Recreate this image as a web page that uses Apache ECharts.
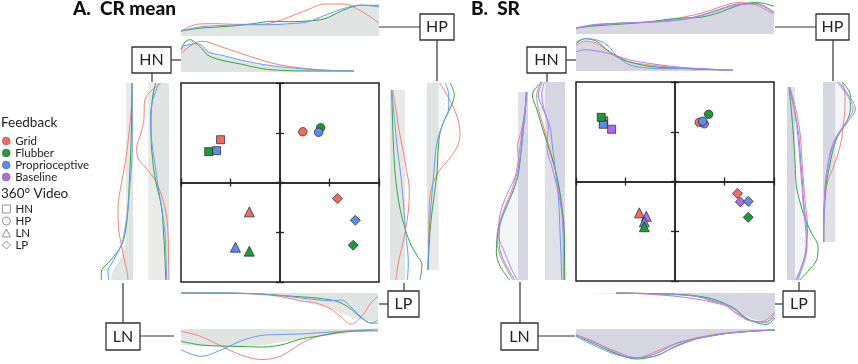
<!DOCTYPE html>
<html>
<head>
<meta charset="utf-8">
<script src="https://cdn.jsdelivr.net/npm/echarts@6/dist/echarts.min.js"></script>
<style>html,body{margin:0;padding:0;background:#fff}#chart{width:858px;height:364px}</style>
</head>
<body>
<div id="chart"></div>
<script>
// ---- feedback conditions & stimulus shapes ----
const feedbacks = ['Grid', 'Flubber', 'Proprioceptive', 'Baseline'];
const stimuli = ['HN', 'HP', 'LN', 'LP'];
const shapes = ['rect', 'circle', 'triangle', 'diamond'];
const shapeSizes = [8, 8.5, 10, 10];

// ---- condition means (A. CR mean), order HN, HP, LN, LP ----
const aGridX = [-1.20, 0.46, -0.62, 1.16];
const aGridY = [0.86, 1.02, -0.59, -0.32];
const aFlubX = [-1.44, 0.82, -0.62, 1.48];
const aFlubY = [0.62, 1.10, -1.38, -1.26];
const aPropX = [-1.28, 0.78, -0.90, 1.52];
const aPropY = [0.64, 1.01, -1.30, -0.76];

// ---- condition means (B. SR) ----
const bGridX = [-1.44, 0.49, -0.72, 1.26];
const bGridY = [1.22, 1.19, -0.63, -0.24];
const bFlubX = [-1.49, 0.68, -0.62, 1.48];
const bFlubY = [1.29, 1.35, -0.91, -0.72];
const bPropX = [-1.45, 0.56, -0.62, 1.48];
const bPropY = [1.15, 1.21, -0.81, -0.40];
const bBaseX = [-1.28, 0.59, -0.58, 1.32];
const bBaseY = [1.05, 1.16, -0.70, -0.41];

// ---- marginal densities, panel A ----
const aHPxPos = [0, 18, 36, 54, 72, 90, 108, 126, 144, 162, 180, 198];
const aHPxGrey = [5, 8, 9.5, 10.5, 11.5, 12.5, 13, 14.5, 19, 26, 30.5, 30];
const aHPxGrid = [5, 12, 12.3, 11.7, 11.7, 13, 19, 26, 32, 32, 25, 13];
const aHPxFlub = [5, 7.7, 9, 10.3, 12.3, 14.7, 14.3, 15, 17.3, 25.7, 30.7, 30.7];
const aHPxProp = [5, 9, 10.3, 11, 11.3, 11.3, 12.3, 14, 20.7, 27.3, 31, 29];

const aHNxPos = [0, 4, 9, 14, 21, 27, 41, 61, 81, 101, 127, 147, 173];
const aHNxGrey = [24, 26, 27, 28, 26, 21, 16, 11, 7, 4.5, 2.5, 1.5, 1];
const aHNxGrid = [18.3, 22, 26, 29, 30.7, 30, 25, 18.3, 11.7, 6.7, 3.3, 1.7, 1];
const aHNxFlub = [21.7, 30, 32.3, 30, 23.3, 16.7, 11.7, 7.7, 3.3, 1.7, 1, 1, 1];
const aHNxProp = [25, 26.5, 27.5, 28.3, 26.7, 20, 16.7, 11.7, 7.7, 5, 2.7, 1.7, 1];

const aLNyPos = [0, 25, 50, 75, 100, 125, 145, 160, 170, 180, 188, 197];
const aLNyGrey = [7, 7, 7, 7, 7, 7, 7, 7.5, 10, 15, 20, 22];
const aLNyGrid = [1, 1.7, 4, 7, 11.5, 15, 14.5, 12, 10, 8, 6, 5];
const aLNyFlub = [1, 1.3, 1.7, 2.5, 3.7, 5, 7, 10.5, 16.5, 25, 31.5, 31.7];
const aLNyProp = [0.7, 0.7, 0.7, 1, 3, 5, 8, 11, 15.5, 21, 25, 24.3];

const aHNyPos = [0, 10, 20, 35, 50, 65, 75, 85, 100, 125, 150, 175, 197];
const aHNyGrey = [20.7, 20.7, 20.7, 20.7, 20.7, 20.7, 20.7, 20.7, 20.7, 20.7, 20.7, 20.7, 20.7];
const aHNyGrid = [8, 20, 24.7, 25, 28, 32.3, 31, 23, 12.3, 4, 1, 0.5, 0];
const aHNyFlub = [13.3, 15.7, 17, 18, 18, 17.5, 16.5, 15.5, 13, 7.3, 5.5, 4, 3.3];
const aHNyProp = [10, 14, 17, 18.5, 18, 16.5, 15, 13.5, 11.5, 7.3, 4, 3, 2.3];

const aLPyPos = [0, 20, 40, 60, 80, 100, 120, 140, 155, 165, 175, 190];
const aLPyGrey = [15, 15, 15, 15, 15, 15, 15, 15, 15, 15, 15, 15];
const aLPyGrid = [2.7, 6, 9, 13, 16.5, 19.3, 18.5, 15.5, 12.5, 10, 8, 6];
const aLPyFlub = [1.7, 2.2, 2.8, 3.7, 4.8, 7, 10.3, 15.5, 21, 26.7, 32, 30];
const aLPyProp = [1.7, 3.5, 5.5, 7.5, 10.2, 12.3, 14, 15.5, 17, 18, 18.3, 17.3];

const aHPyPos = [0, 12, 25, 37, 50, 62, 75, 90, 110, 135, 160, 187];
const aHPyGrey = [11.7, 11.7, 11.7, 11.7, 11.7, 11.7, 11.7, 11.7, 11.7, 11.7, 11.7, 11.7];
const aHPyGrid = [12.7, 20, 26.7, 31, 33, 31, 23, 11, 3.3, 2, 1.7, 1];
const aHPyFlub = [23.3, 27.3, 23.3, 17.5, 13, 11.5, 10.7, 10, 7.5, 4.3, 2.3, 1];
const aHPyProp = [18.3, 21.7, 21.7, 17.5, 12.5, 9.5, 8, 6.8, 5, 3, 1.7, 1];

const aLPxPos = [0, 20, 40, 60, 80, 100, 120, 135, 150, 160, 170, 180, 190, 197];
const aLPxGrey = [0.5, 0.5, 1, 1.5, 2.5, 4.5, 8, 12, 16, 20, 24, 27, 28, 28];
const aLPxGrid = [0, 0, 0.2, 0.5, 1.2, 3.5, 8, 10, 16, 24, 31, 24, 10, 3.3];
const aLPxFlub = [0, 0, 0, 0.3, 1, 2.5, 3.8, 5, 7, 10, 16, 24.5, 30, 30];
const aLPxProp = [0, 0, 0, 0.3, 1, 2.5, 5, 6.7, 7.7, 7, 14, 24, 30, 26.7];

const aLNxPos = [0, 20, 40, 60, 80, 100, 120, 135, 150, 160, 170, 180, 190, 197];
const aLNxGrey = [16, 17, 17, 17, 16, 13, 10, 8, 6, 4.5, 3.5, 2.5, 2, 1.5];
const aLNxGrid = [2.3, 7.5, 17, 26, 30.5, 27, 14.5, 8, 4.5, 2.5, 1.7, 1, 0.5, 0];
const aLNxFlub = [12.3, 16, 17, 17.5, 18, 16, 10, 7.5, 5, 3.5, 2.3, 2, 1.7, 1.7];
const aLNxProp = [20.7, 27.3, 21, 12, 6.5, 5.5, 5, 4, 3, 2.5, 2, 2, 1.7, 1.7];

// ---- marginal densities, panel B ----
const bHPxPos = [0, 18, 36, 54, 72, 90, 108, 126, 144, 162, 180, 198];
const bHPxGrey = [6, 9, 10, 11, 12, 13.5, 15.5, 19, 25, 30, 31, 23];
const bHPxGrid = [6, 9, 10.5, 11.3, 12, 13.5, 17, 21, 27, 31.5, 29, 19.3];
const bHPxFlub = [6, 8, 9.3, 10.5, 12, 14.5, 16, 17, 21.7, 28.5, 31.7, 27.7];
const bHPxProp = [6, 9.5, 10.5, 11.3, 12, 13, 15, 19, 25, 30, 30.5, 21.7];
const bHPxBase = [5.5, 9, 10, 11, 11.7, 12.7, 14.5, 18.5, 24.3, 29.3, 30, 21];

const bHNxPos = [0, 9, 21, 31, 41, 54, 71, 87, 107, 127, 157];
const bHNxGrey = [26, 30, 28, 22, 15, 9, 6, 4, 3, 2, 0.7];
const bHNxGrid = [25.7, 30, 27.5, 21, 15, 9, 6.5, 4.5, 3, 1.7, 0.7];
const bHNxFlub = [27.3, 32.3, 29.5, 21, 14, 9, 5, 3.5, 2.5, 1.7, 0.7];
const bHNxProp = [29, 32.3, 31, 26, 15, 6, 3, 2.3, 2.5, 2, 0.7];
const bHNxBase = [19, 21.3, 20, 18, 15, 11, 8, 5.7, 3.5, 2.3, 0.7];

const bLNyPos = [0, 20, 40, 55, 70, 85, 100, 115, 130, 145, 160, 175, 188];
const bLNyGrey = [10, 10, 10, 10, 10, 10, 10, 10, 10, 10, 10, 10, 10];
const bLNyGrid = [1.7, 3, 7, 10.7, 9.3, 12, 17, 23, 28.5, 31, 29, 22.5, 15];
const bLNyFlub = [1.7, 3, 5, 6.5, 8, 10.3, 15.5, 21.5, 27.5, 30.7, 31.7, 27.5, 18.3];
const bLNyProp = [1, 3, 5, 6.5, 8.5, 10.5, 15, 22, 27.3, 29, 27.5, 21, 13.3];
const bLNyBase = [1, 3.5, 6, 8, 10, 13, 20, 26, 29, 29, 23.5, 17.5, 10.7];

const bHNyPos = [0, 13, 27, 45, 65, 85, 105, 125, 150, 175, 198];
const bHNyGrey = [20, 20, 20, 20, 20, 20, 20, 20, 20, 20, 20];
const bHNyGrid = [24, 28.3, 26.7, 21.5, 16, 10.5, 6.5, 3.5, 1, 0.5, 0];
const bHNyFlub = [23.3, 32.7, 28.3, 23, 16.5, 10.3, 6, 3, 0.7, 0.5, 0.7];
const bHNyProp = [22.7, 26.7, 22, 15, 12.5, 10, 7.5, 6, 5, 4, 3.3];
const bHNyBase = [20.7, 23.3, 21, 16.7, 18, 13, 8, 4, 2, 1.7, 1.7];

const bLPyPos = [0, 25, 50, 75, 100, 115, 130, 145, 160, 172, 183, 193];
const bLPyGrey = [8, 8, 8, 8, 8, 8, 8, 8, 8, 8, 8, 8];
const bLPyGrid = [2.7, 9.5, 13.5, 15, 17, 18.2, 20, 20.5, 19, 17, 14, 9.3];
const bLPyFlub = [2, 4.5, 6.5, 8, 9.5, 13, 17.5, 24, 31, 30, 22, 12.7];
const bLPyProp = [2.7, 8, 12, 13.8, 15.8, 16.7, 18.5, 20, 20, 18, 14.5, 11];
const bLPyBase = [2, 7.5, 11, 13, 15, 16, 17.5, 19, 19.3, 17, 13, 8.7];

const bHPyPos = [0, 13, 27, 40, 55, 70, 85, 100, 120, 140, 160];
const bHPyGrey = [12.3, 12.3, 12.3, 12.3, 12.3, 12.3, 12.3, 12.3, 12.3, 12.3, 12.3];
const bHPyGrid = [19, 22, 22, 20.5, 19, 15.5, 10.5, 4.5, 2, 1, 0.7];
const bHPyFlub = [19, 27.3, 27.3, 23.5, 14.5, 9.5, 6.5, 3.5, 1.5, 0.7, 0.7];
const bHPyProp = [15.7, 25.5, 32.3, 24.5, 14, 8, 5, 2.5, 1.5, 0.7, 0.7];
const bHPyBase = [14, 24, 30, 23, 13, 7.3, 4.5, 2.5, 1.3, 0.7, 0.7];

const bLPxPos = [0, 20, 40, 60, 80, 100, 120, 135, 150, 160, 170, 180, 190, 199];
const bLPxGrey = [0, 0.2, 0.5, 1, 1.5, 2.5, 4, 7, 11, 17, 23, 27, 28, 22];
const bLPxGrid = [null, null, 0, 0.3, 0.8, 1.3, 3, 8, 12, 19.5, 25, 29, 27, 18.3];
const bLPxFlub = [null, null, 0, 0.3, 0.7, 1.3, 3, 5.5, 11, 16.5, 25, 29.5, 31.5, 25];
const bLPxProp = [null, null, 0, 0.3, 0.8, 1.5, 3.3, 7, 11.5, 17.5, 26.5, 28.5, 29.3, 20];
const bLPxBase = [null, null, 0, 0.5, 1.7, 3.3, 6, 9, 13, 20.5, 26, 28.5, 29, 23.3];

const bLNxPos = [0, 20, 40, 60, 80, 100, 120, 135, 150, 160, 170, 180, 190, 199];
const bLNxGrey = [6, 15, 24, 29, 25.5, 16, 10, 7, 4.5, 3.5, 2.7, 2, 1.3, 1];
const bLNxGrid = [5.7, 13.5, 24, 29, 22.5, 14.5, 9, 6, 4, 3, 2.3, 1.5, 1, 0.7];
const bLNxFlub = [6.7, 15.7, 24.5, 30, 26.7, 17.5, 10, 7, 4.5, 3.5, 2.7, 2, 1.5, 1.3];
const bLNxProp = [7.3, 17.3, 25.5, 29, 24.5, 14.5, 9.5, 6.7, 4.5, 3.5, 2.7, 2, 1.5, 1.3];
const bLNxBase = [5.7, 14, 22.5, 28.5, 27, 16.7, 10, 7, 4.5, 3.5, 2.7, 2, 1.3, 0.7];

// colours
const markColors = { Grid: '#F26A62', Flubber: '#1E9B37', Proprioceptive: '#5B8DEB', Baseline: '#B06BE6' };
const lineColors = { Grid: '#F2837B', Flubber: '#33A846', Proprioceptive: '#6A9BF0', Baseline: '#BA7BEE' };
const greyA = '#E8EAE8';
const greyB = '#E0E0E8';

const grids = [], xAxes = [], yAxes = [], series = [];

function addStrip(s) {
  const gi = grids.length;
  grids.push({ left: s.left, top: s.top, width: s.width, height: s.height, show: false });
  const horizontal = s.dir === 'up' || s.dir === 'down';
  const len = horizontal ? s.width : s.height;
  const depth = horizontal ? s.height : s.width;
  // vertical strips use a time axis for position so that the area fills towards the density baseline
  const posAxis = horizontal
    ? { type: 'value', min: 0, max: len }
    : { type: 'time', min: 0, max: len, inverse: true };
  const denAxis = { type: 'value', min: 0, max: depth, inverse: s.dir === 'down' || s.dir === 'left' };
  const xa = horizontal ? posAxis : denAxis;
  const ya = horizontal ? denAxis : posAxis;
  xAxes.push(Object.assign({ gridIndex: gi, show: false }, xa));
  yAxes.push(Object.assign({ gridIndex: gi, show: false }, ya));

  const toData = vals => s.pos.map((p, i) => {
    const v = vals[i];
    if (v === null) return horizontal ? [p, '-'] : ['-', p];
    return horizontal ? [p, v] : [v, p];
  });
  const base = { type: 'line', xAxisIndex: gi, yAxisIndex: gi, smooth: 0.35, symbol: 'none',
    silent: true, clip: false, animation: false };
  series.push(Object.assign({}, base, {
    name: s.label, data: toData(s.grey), z: 1,
    lineStyle: { width: 0 }, areaStyle: { color: s.greyColor, opacity: 1 }
  }));
  s.curves.forEach(([fb, vals]) => {
    series.push(Object.assign({}, base, {
      data: toData(vals), z: 2,
      lineStyle: { width: 1, color: lineColors[fb] },
      areaStyle: { color: lineColors[fb], opacity: 0.025 }
    }));
  });
}

// panel A strips
addStrip({ label: 'HP', left: 181, top: 2, width: 198, height: 34, dir: 'up', pos: aHPxPos, grey: aHPxGrey, greyColor: greyA,
  curves: [['Grid', aHPxGrid], ['Flubber', aHPxFlub], ['Proprioceptive', aHPxProp]] });
addStrip({ label: 'HN', left: 181, top: 38, width: 173, height: 34, dir: 'up', pos: aHNxPos, grey: aHNxGrey, greyColor: greyA,
  curves: [['Grid', aHNxGrid], ['Flubber', aHNxFlub], ['Proprioceptive', aHNxProp]] });
addStrip({ label: 'LN', left: 100, top: 83, width: 33, height: 197, dir: 'left', pos: aLNyPos, grey: aLNyGrey, greyColor: greyA,
  curves: [['Grid', aLNyGrid], ['Flubber', aLNyFlub], ['Proprioceptive', aLNyProp]] });
addStrip({ label: 'HN', left: 136, top: 83, width: 33, height: 197, dir: 'left', pos: aHNyPos, grey: aHNyGrey, greyColor: greyA,
  curves: [['Grid', aHNyGrid], ['Flubber', aHNyFlub], ['Proprioceptive', aHNyProp]] });
addStrip({ label: 'LP', left: 390, top: 90, width: 33, height: 190, dir: 'right', pos: aLPyPos, grey: aLPyGrey, greyColor: greyA,
  curves: [['Grid', aLPyGrid], ['Flubber', aLPyFlub], ['Proprioceptive', aLPyProp]] });
addStrip({ label: 'HP', left: 427, top: 83, width: 33, height: 187, dir: 'right', pos: aHPyPos, grey: aHPyGrey, greyColor: greyA,
  curves: [['Grid', aHPyGrid], ['Flubber', aHPyFlub], ['Proprioceptive', aHPyProp]] });
addStrip({ label: 'LP', left: 181, top: 293, width: 197, height: 33, dir: 'down', pos: aLPxPos, grey: aLPxGrey, greyColor: greyA,
  curves: [['Grid', aLPxGrid], ['Flubber', aLPxFlub], ['Proprioceptive', aLPxProp]] });
addStrip({ label: 'LN', left: 181, top: 329, width: 197, height: 33, dir: 'down', pos: aLNxPos, grey: aLNxGrey, greyColor: greyA,
  curves: [['Grid', aLNxGrid], ['Flubber', aLNxFlub], ['Proprioceptive', aLNxProp]] });

// panel B strips
addStrip({ label: 'HP', left: 576, top: 1, width: 198, height: 33, dir: 'up', pos: bHPxPos, grey: bHPxGrey, greyColor: greyB,
  curves: [['Grid', bHPxGrid], ['Flubber', bHPxFlub], ['Proprioceptive', bHPxProp], ['Baseline', bHPxBase]] });
addStrip({ label: 'HN', left: 576, top: 37, width: 157, height: 34, dir: 'up', pos: bHNxPos, grey: bHNxGrey, greyColor: greyB,
  curves: [['Grid', bHNxGrid], ['Flubber', bHNxFlub], ['Proprioceptive', bHNxProp], ['Baseline', bHNxBase]] });
addStrip({ label: 'LN', left: 495, top: 92, width: 33, height: 188, dir: 'left', pos: bLNyPos, grey: bLNyGrey, greyColor: greyB,
  curves: [['Grid', bLNyGrid], ['Flubber', bLNyFlub], ['Proprioceptive', bLNyProp], ['Baseline', bLNyBase]] });
addStrip({ label: 'HN', left: 532, top: 82, width: 33, height: 198, dir: 'left', pos: bHNyPos, grey: bHNyGrey, greyColor: greyB,
  curves: [['Grid', bHNyGrid], ['Flubber', bHNyFlub], ['Proprioceptive', bHNyProp], ['Baseline', bHNyBase]] });
addStrip({ label: 'LP', left: 787, top: 87, width: 33, height: 193, dir: 'right', pos: bLPyPos, grey: bLPyGrey, greyColor: greyB,
  curves: [['Grid', bLPyGrid], ['Flubber', bLPyFlub], ['Proprioceptive', bLPyProp], ['Baseline', bLPyBase]] });
addStrip({ label: 'HP', left: 823, top: 82, width: 33, height: 160, dir: 'right', pos: bHPyPos, grey: bHPyGrey, greyColor: greyB,
  curves: [['Grid', bHPyGrid], ['Flubber', bHPyFlub], ['Proprioceptive', bHPyProp], ['Baseline', bHPyBase]] });
addStrip({ label: 'LP', left: 576, top: 293, width: 199, height: 33, dir: 'down', pos: bLPxPos, grey: bLPxGrey, greyColor: greyB,
  curves: [['Grid', bLPxGrid], ['Flubber', bLPxFlub], ['Proprioceptive', bLPxProp], ['Baseline', bLPxBase]] });
addStrip({ label: 'LN', left: 576, top: 329, width: 199, height: 33, dir: 'down', pos: bLNxPos, grey: bLNxGrey, greyColor: greyB,
  curves: [['Grid', bLNxGrid], ['Flubber', bLNxFlub], ['Proprioceptive', bLNxProp], ['Baseline', bLNxBase]] });

// main scatter squares, with a cross through zero and ticks on both sides
function addMain(left, top, groups) {
  const gi = grids.length;
  grids.push({ left: left, top: top, width: 198, height: 199, show: true,
    borderColor: '#222', borderWidth: 1.5, backgroundColor: 'transparent' });
  const axisBase = { type: 'value', gridIndex: gi, min: -2, max: 2, interval: 1,
    axisLine: { onZero: true, lineStyle: { color: '#222', width: 1.5 } },
    axisTick: { show: true, length: 4, lineStyle: { color: '#222', width: 1.3 } },
    axisLabel: { show: false }, splitLine: { show: false } };
  const xi = xAxes.length, yi = yAxes.length;
  xAxes.push(Object.assign({ position: 'bottom' }, axisBase));
  xAxes.push(Object.assign({ position: 'top' }, axisBase));
  yAxes.push(Object.assign({ position: 'left' }, axisBase));
  yAxes.push(Object.assign({ position: 'right' }, axisBase));
  groups.forEach(([fb, xs, ys]) => {
    series.push({
      type: 'scatter', name: fb, xAxisIndex: xi, yAxisIndex: yi, z: 5, animation: false,
      data: xs.map((x, i) => [x, ys[i], i]),
      symbol: v => shapes[v[2]],
      symbolSize: v => shapeSizes[v[2]],
      itemStyle: { color: markColors[fb], borderColor: '#222', borderWidth: 0.7, opacity: 1 }
    });
  });
}
addMain(181, 83, [['Grid', aGridX, aGridY], ['Flubber', aFlubX, aFlubY], ['Proprioceptive', aPropX, aPropY]]);
addMain(576, 82, [['Grid', bGridX, bGridY], ['Baseline', bBaseX, bBaseY], ['Proprioceptive', bPropX, bPropY], ['Flubber', bFlubX, bFlubY]]);

// label boxes and connectors
const boxes = [
  // text, x, y, w, h, connector lines
  ['HP', 420, 14, 34, 26, [[379, 27, 420, 27], [437, 40, 437, 81]]],
  ['HN', 132, 47, 39, 26, [[171, 60, 181, 60], [152, 73, 152, 82]]],
  ['LN', 106, 323, 34, 27, [[140, 336, 174, 336], [123, 323, 123, 283]]],
  ['LP', 388, 291, 31, 26, [[379, 304, 388, 304], [404, 291, 404, 283]]],
  ['HP', 816, 14, 33, 26, [[775, 27, 816, 27], [833, 40, 833, 81]]],
  ['HN', 527, 47, 39, 26, [[566, 60, 576, 60], [547, 73, 547, 82]]],
  ['LN', 501, 323, 37, 27, [[538, 336, 575, 336], [520, 323, 520, 282]]],
  ['LP', 783, 291, 32, 26, [[775, 304, 783, 304], [799, 291, 799, 282]]]
];
const graphics = [];
boxes.forEach(([t, x, y, w, h, lines]) => {
  lines.forEach(([x1, y1, x2, y2]) => graphics.push({ type: 'line', silent: true,
    shape: { x1, y1, x2, y2 }, style: { stroke: '#333', lineWidth: 1.2 } }));
  graphics.push({ type: 'rect', silent: true, shape: { x, y, width: w, height: h },
    style: { fill: '#fff', stroke: '#333', lineWidth: 1.3 } });
  graphics.push({ type: 'text', silent: true, x: x + w / 2, y: y + h / 2,
    style: { text: t, fontSize: 16, fontFamily: 'Lato', fill: '#222', align: 'center', verticalAlign: 'middle' } });
});

const titleFont = { fontFamily: 'Lato', fontWeight: 900, fontSize: 19, color: '#111' };
const headFont = { fontFamily: 'Lato', fontWeight: 'normal', fontSize: 13.5, color: '#222' };
const legendText = { fontFamily: 'Lato', fontSize: 11.5, color: '#222', lineHeight: 11.3 };

const option = {
  backgroundColor: '#fff',
  animation: false,
  textStyle: { fontFamily: 'Lato' },
  title: [
    { text: 'A.  CR mean', left: 73, top: -1, padding: 0, textStyle: titleFont },
    { text: 'B.  SR', left: 471, top: -1, padding: 0, textStyle: titleFont },
    { text: 'Feedback', left: 1, top: 116, padding: 0, textStyle: headFont },
    { text: '360° Video', left: 1, top: 187, padding: 0, textStyle: headFont }
  ],
  legend: [
    { orient: 'vertical', left: 2, top: 135, padding: 0, itemGap: 0, itemWidth: 8, itemHeight: 8, icon: 'circle', selectedMode: false,
      textStyle: legendText,
      data: feedbacks.map(f => ({ name: f, itemStyle: { borderWidth: 0.4, borderColor: '#555' } })) },
    { orient: 'vertical', left: 2, top: 203, padding: 0, itemGap: 0, itemWidth: 8, itemHeight: 8, selectedMode: false,
      textStyle: legendText,
      data: stimuli.map((s, i) => ({ name: s, icon: shapes[i],
        itemStyle: { color: '#fff', borderColor: '#777', borderWidth: 0.8, opacity: 1 } })) }
  ],
  grid: grids,
  xAxis: xAxes,
  yAxis: yAxes,
  series: series,
  graphic: graphics
};

const chart = echarts.init(document.getElementById('chart'));
chart.setOption(option);
</script>
</body>
</html>
